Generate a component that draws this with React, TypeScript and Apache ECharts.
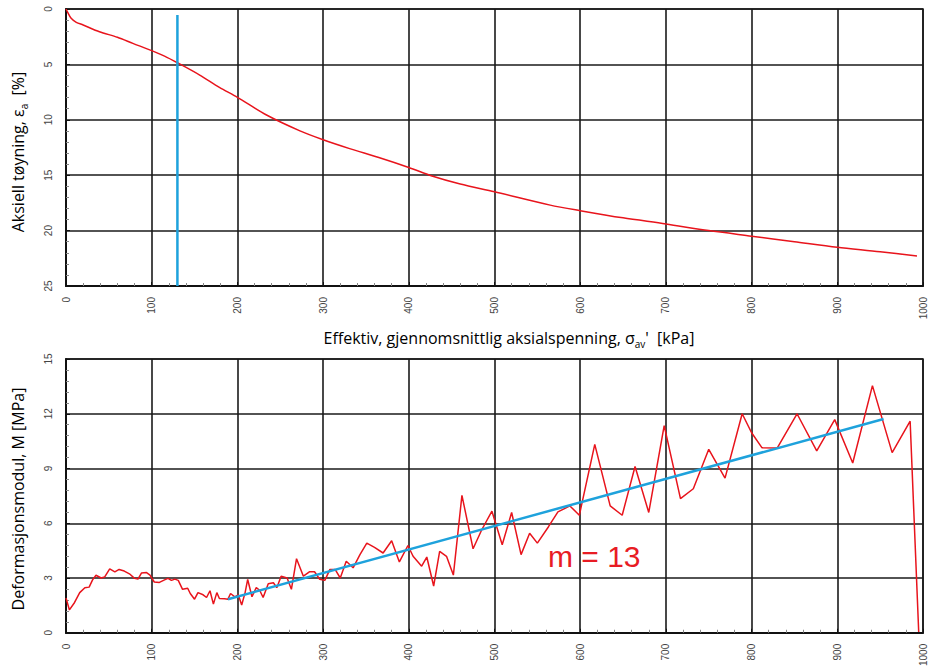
import React, { useEffect, useRef } from "react";
import * as echarts from "echarts";

// Top chart: axial strain vs effective mean axial stress
const strainX = [0, 2, 6, 12, 20, 39, 60, 78, 100, 115, 130, 156, 179, 200, 234, 273, 300, 331, 365, 400, 428, 460, 500, 565, 600, 650, 700, 750, 800, 850, 900, 950, 993];
const strainY = [0, 0.3, 0.84, 1.2, 1.44, 2.05, 2.55, 3.1, 3.76, 4.25, 4.85, 5.96, 7.07, 7.97, 9.57, 11.0, 11.8, 12.6, 13.4, 14.3, 15.1, 15.8, 16.5, 17.7, 18.2, 18.85, 19.4, 20.0, 20.5, 21.0, 21.5, 21.9, 22.3];

// Vertical marker in the top chart
const markerX = [130, 130];
const markerY = [0.54, 25];

// Bottom chart: deformation modulus vs stress
const modX = [0, 4, 10, 16, 22, 27, 31, 35, 41, 45, 51, 57, 62, 68, 74, 80, 84, 88, 94, 98, 103, 109, 115, 119, 123, 127, 131, 136, 142, 145, 150, 154, 160, 164, 168, 172, 176, 179, 185, 189, 192, 197, 201, 205, 209, 212, 217, 222, 226, 230, 236, 242, 246, 251, 258, 263, 269, 277, 284, 290, 296, 302, 308, 314, 320, 327, 335, 343, 351, 360, 370, 380, 389, 399, 405, 415, 421, 429, 436, 444, 452, 462, 475, 485, 497, 509, 520, 531, 541, 550, 563, 574, 588, 599, 617, 635, 649, 664, 680, 698, 717, 732, 750, 769, 789, 800, 812, 830, 853, 876, 897, 918, 941, 964, 985, 995];
const modY = [1.9, 1.25, 1.66, 2.2, 2.47, 2.5, 2.9, 3.15, 3.0, 3.05, 3.5, 3.34, 3.47, 3.38, 3.23, 2.98, 2.94, 3.27, 3.3, 3.16, 2.78, 2.76, 2.9, 2.98, 2.87, 2.94, 2.87, 2.38, 2.44, 2.15, 1.84, 2.2, 2.08, 1.93, 2.3, 1.57, 2.2, 1.88, 1.86, 1.84, 2.15, 1.97, 2.08, 1.52, 2.2, 2.92, 1.97, 2.47, 2.33, 1.93, 2.69, 2.74, 2.47, 3.1, 3.0, 2.38, 4.06, 3.1, 3.34, 3.34, 2.93, 2.87, 3.47, 3.47, 3.0, 3.92, 3.56, 4.28, 4.91, 4.68, 4.37, 5.04, 3.88, 4.78, 4.19, 3.65, 4.15, 2.56, 4.46, 4.19, 3.16, 7.53, 4.6, 5.63, 6.66, 4.82, 6.59, 4.28, 5.45, 4.91, 5.81, 6.62, 6.95, 6.44, 10.32, 6.95, 6.44, 9.11, 6.59, 11.35, 7.35, 7.89, 10.05, 8.47, 12.0, 10.96, 10.14, 10.13, 12.0, 9.97, 11.68, 9.3, 13.54, 9.87, 11.59, 0.04];

// Linear fit (m = 13)
const fitX = [189, 954];
const fitY = [1.84, 11.71];

const zip = (xs: number[], ys: number[]) => xs.map((x, i) => [x, ys[i]]);

const RED = "#e8141c";
const BLUE = "#1ea2dc";
const FONT = "Liberation Sans";
const TFONT = "Open Sans";

export default function App() {
  const ref = useRef<HTMLDivElement>(null);
  useEffect(() => {
    document.body.style.margin = "0";
    const chart = echarts.init(ref.current!, null, { renderer: "svg" });
    const label = (margin: number) => ({
      rotate: 90,
      fontSize: 10,
      color: "#444",
      margin,
      fontFamily: FONT,
      formatter: (v: number) => String(v),
    });
    const xAxisBase = (gi: number) => ({
      type: "value",
      gridIndex: gi,
      min: 0,
      max: 1000,
      interval: 100,
      axisLine: { show: true, onZero: false, lineStyle: { color: "#111", width: 2 } },
      axisTick: { show: true, inside: true, length: 4, lineStyle: { color: "#111" } },
      minorTick: { show: true, splitNumber: 5, length: 3, lineStyle: { color: "#888" } },
      splitLine: { show: true, lineStyle: { color: "#1a1a1a", width: 1.6 } },
      axisLabel: label(11),
    });
    const yAxisBase = (gi: number, max: number, interval: number, inverse: boolean) => ({
      type: "value",
      gridIndex: gi,
      min: 0,
      max,
      interval,
      inverse,
      axisLine: { show: true, onZero: false, lineStyle: { color: "#111", width: 2 } },
      axisTick: { show: true, inside: true, length: 4, lineStyle: { color: "#111" } },
      minorTick: { show: true, splitNumber: 5, length: 3, lineStyle: { color: "#888" } },
      splitLine: { show: true, lineStyle: { color: "#1a1a1a", width: 1.6 } },
      axisLabel: label(13),
    });
    const rich = (size: number) => ({
      m: { fontSize: size, lineHeight: size + 6, color: "#222", fontFamily: TFONT, verticalAlign: "middle" },
      s: { fontSize: Math.round(size * 0.65), lineHeight: 11, color: "#222", fontFamily: TFONT, verticalAlign: "bottom" },
    });
    chart.setOption({
      animation: false,
      backgroundColor: "#fff",
      grid: [
        { left: 66, right: 5, top: 9, height: 277, show: true, borderColor: "#111", borderWidth: 1.5 },
        { left: 66, right: 5, top: 359, height: 276, show: true, borderColor: "#111", borderWidth: 1.5 },
      ],
      xAxis: [xAxisBase(0), xAxisBase(1)],
      yAxis: [yAxisBase(0, 25, 5, true), yAxisBase(1, 15, 3, false)],
      series: [
        {
          type: "line",
          xAxisIndex: 0,
          yAxisIndex: 0,
          data: zip(strainX, strainY),
          showSymbol: false,
          smooth: 0.3,
          lineStyle: { color: RED, width: 1.5 },
        },
        {
          type: "line",
          xAxisIndex: 0,
          yAxisIndex: 0,
          data: zip(markerX, markerY),
          showSymbol: false,
          lineStyle: { color: BLUE, width: 2.5 },
        },
        {
          type: "line",
          xAxisIndex: 1,
          yAxisIndex: 1,
          data: zip(modX, modY),
          showSymbol: false,
          lineStyle: { color: RED, width: 1.5 },
        },
        {
          type: "line",
          xAxisIndex: 1,
          yAxisIndex: 1,
          data: zip(fitX, fitY),
          showSymbol: false,
          lineStyle: { color: BLUE, width: 2.5 },
        },
      ],
      graphic: [
        {
          type: "text",
          x: 18,
          y: 152,
          rotation: Math.PI / 2,
          style: {
            text: "{m|Aksiell tøyning, ε}{s|a}{m|  [%]}",
            rich: rich(16),
            align: "center",
            verticalAlign: "middle",
          },
        },
        {
          type: "text",
          x: 18,
          y: 499,
          rotation: Math.PI / 2,
          style: {
            text: "{m|Deformasjonsmodul, M [MPa]}",
            rich: rich(16),
            align: "center",
            verticalAlign: "middle",
          },
        },
        {
          type: "text",
          x: 509,
          y: 338,
          style: {
            text: "{m|Effektiv, gjennomsnittlig aksialspenning, σ}{s|av}{m|'  [kPa]}",
            rich: rich(16),
            align: "center",
            verticalAlign: "middle",
          },
        },
        {
          type: "text",
          x: 548,
          y: 556,
          style: {
            text: "m = 13",
            fontSize: 30,
            fontFamily: FONT,
            fill: "#e81c24",
            align: "left",
            verticalAlign: "middle",
          },
        },
      ],
    });
    return () => chart.dispose();
  }, []);
  return <div ref={ref} style={{ width: 928, height: 669 }} />;
}
